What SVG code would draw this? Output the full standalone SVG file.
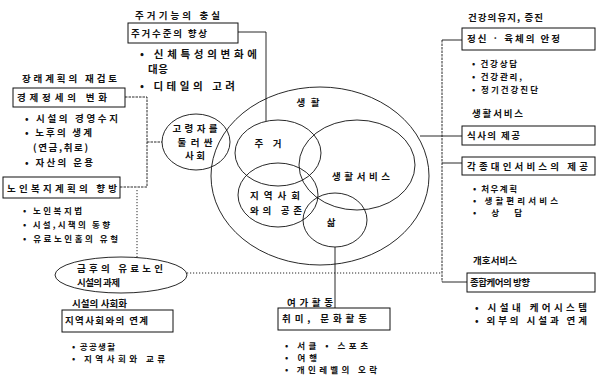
<svg xmlns="http://www.w3.org/2000/svg" width="600" height="382" viewBox="0 0 600 382">
<style>
text{font-family:"Noto Sans CJK KR","Noto Sans",sans-serif;font-weight:bold;fill:#111;dominant-baseline:central;font-size:9.5px}
.s{font-size:8.5px}
.b{font-size:10.5px}
.box{fill:#fff;stroke:#111;stroke-width:1}
.c{fill:none;stroke:#111;stroke-width:0.9}
.ln{fill:none;stroke:#111;stroke-width:0.9}
.dl{fill:none;stroke:#111;stroke-width:0.9;stroke-dasharray:2.5 1}
.dot{fill:none;stroke:#111;stroke-width:0.9;stroke-dasharray:1.2 1.8}
.m{text-anchor:middle}
</style>
<rect width="600" height="382" fill="#fff"/>
<g id="connectors">
<polyline class="ln" points="238,32 266,32 266,121"/>
<polyline class="dl" points="125,97 147,97 147,187 120,187"/>
<line class="dl" x1="147" y1="142" x2="162" y2="142"/>
<line class="dot" x1="137" y1="190" x2="137" y2="257"/>
<line class="dot" x1="187" y1="273" x2="442" y2="273"/>
<line class="dl" x1="442" y1="40" x2="442" y2="282"/>
<line class="ln" x1="442" y1="40" x2="462" y2="40"/>
<line class="ln" x1="420" y1="136" x2="462" y2="136"/>
<line class="ln" x1="442" y1="163" x2="462" y2="163"/>
<line class="ln" x1="442" y1="282" x2="467" y2="282"/>
<line class="ln" x1="335" y1="247" x2="335" y2="308"/>
</g>
<g id="circles">
<ellipse class="c" cx="320" cy="176" rx="109" ry="89"/>
<ellipse class="c" cx="278" cy="153" rx="43" ry="33"/>
<ellipse class="c" cx="357" cy="165" rx="58" ry="45"/>
<ellipse class="c" cx="278" cy="195" rx="40" ry="32"/>
<ellipse class="c" cx="335" cy="220" rx="32" ry="27"/>
<text class="m" x="308" y="102" textLength="23">생활</text>
<text class="m" x="268" y="143" textLength="27">주거</text>
<text class="m" x="361" y="176" textLength="58">생활서비스</text>
<text x="250" y="195" textLength="50">지역사회</text>
<text x="250" y="210" textLength="52">와의 공존</text>
<text class="m" x="331" y="222">삶</text>
</g>
<g id="node-housing">
<text x="135" y="15" textLength="85">주거기능의 충실</text>
<rect class="box" x="128" y="23" width="110" height="20"/>
<text x="131" y="33" textLength="76">주거수준의 향상</text>
<text class="b" x="140" y="53" textLength="117">• 신체특성의변화에</text>
<text class="b" x="148" y="68" textLength="20">대응</text>
<text class="b" x="140" y="85" textLength="95">• 디테일의 고려</text>
</g>
<g id="node-future">
<text x="22" y="78" textLength="95">장래계획의 재검토</text>
<rect class="box" x="13" y="88" width="112" height="19"/>
<text x="17" y="97" textLength="90">경제정세의 변화</text>
<text x="25" y="118" textLength="93">• 시설의 경영수지</text>
<text x="25" y="132" textLength="67">• 노후의 생계</text>
<text x="33" y="147" textLength="55">(연금,취로)</text>
<text x="25" y="162" textLength="68">• 자산의 운용</text>
</g>
<g id="node-welfare">
<rect class="box" x="3" y="177" width="117" height="21"/>
<text x="7" y="188" textLength="110">노인복지계획의 향방</text>
<text class="s" x="23" y="210" textLength="59">• 노인복지법</text>
<text class="s" x="23" y="224" textLength="87">• 시설,시책의 동향</text>
<text class="s" x="23" y="238" textLength="95">• 유료노인홈의 유형</text>
</g>
<g id="node-society">
<ellipse class="c" cx="196" cy="142" rx="34" ry="28"/>
<text class="m" x="195" y="128" textLength="45">고령자를</text>
<text class="m" x="195" y="142" textLength="35">둘러싼</text>
<text class="m" x="195" y="155" textLength="20">사회</text>
</g>
<g id="node-task">
<ellipse class="c" cx="121" cy="275" rx="66" ry="18"/>
<text x="77" y="268" textLength="86">금후의 유료노인</text>
<text x="77" y="282" textLength="43">시설의 과제</text>
</g>
<g id="node-community">
<text x="72" y="303" textLength="55">시설의 사회화</text>
<rect class="box" x="62" y="310" width="111" height="22"/>
<text x="65" y="320" textLength="83">지역사회와의 연계</text>
<text class="s" x="72" y="346" textLength="43">• 공공생활</text>
<text class="s" x="72" y="358" textLength="93">• 지역사회와 교류</text>
</g>
<g id="node-leisure">
<text x="287" y="302" textLength="46">여가활동</text>
<rect class="box" x="278" y="308" width="112" height="22"/>
<text x="282" y="318" textLength="85">취미, 문화활동</text>
<text class="s" x="285" y="345" textLength="83">• 서클 • 스포츠</text>
<text class="s" x="285" y="357" textLength="32">• 여행</text>
<text class="s" x="285" y="369" textLength="92">• 개인레벨의 오락</text>
</g>
<g id="node-health">
<text x="468" y="17" textLength="75">건강의유지, 증진</text>
<rect class="box" x="462" y="28" width="133" height="22"/>
<text x="467" y="38" textLength="93">정신 · 육체의 안정</text>
<text class="s" x="472" y="63" textLength="45">• 건강상담</text>
<text class="s" x="472" y="76" textLength="50">• 건강관리,</text>
<text class="s" x="472" y="89" textLength="66">• 정기건강진단</text>
</g>
<g id="node-service">
<text x="472" y="113" textLength="51">생활서비스</text>
<rect class="box" x="462" y="126" width="133" height="19"/>
<text x="467" y="135" textLength="53">식사의 제공</text>
<rect class="box" x="462" y="157" width="133" height="18"/>
<text x="467" y="166" textLength="121">각종대인서비스의 제공</text>
<text class="s" x="473" y="188" textLength="44">• 처우계획</text>
<text class="s" x="473" y="200" textLength="85">• 생활편리서비스</text>
<text class="s" x="473" y="212" textLength="49">• 상   담</text>
</g>
<g id="node-care">
<text x="473" y="260" textLength="44">개호서비스</text>
<rect class="box" x="467" y="273" width="128" height="19"/>
<text x="470" y="282" textLength="60">종합케어의 방향</text>
<text x="475" y="307" textLength="112">• 시설내 케어시스템</text>
<text x="475" y="320" textLength="112">• 외부의 시설과 연계</text>
</g>
</svg>
